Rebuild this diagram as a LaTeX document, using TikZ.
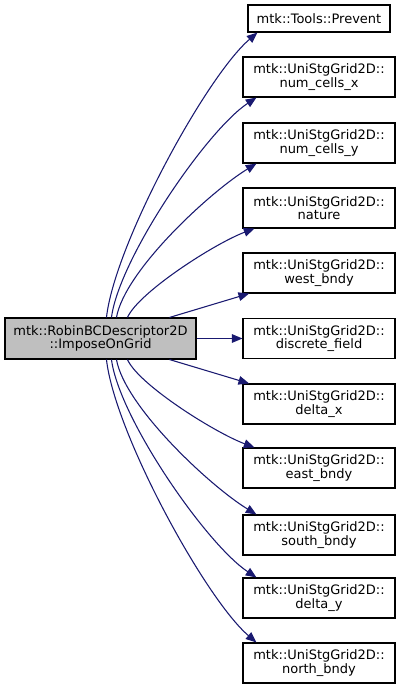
\documentclass[tikz,border=0pt]{standalone}
\usepackage{fontspec}
\setmainfont{DejaVu Sans}
\usetikzlibrary{arrows.meta}
\definecolor{edgeblue}{HTML}{191970}
\definecolor{boxgrey}{HTML}{BFBFBF}
\tikzset{
  box/.style={draw=black, line width=0.8pt, fill=white, inner sep=0pt, align=center,
    minimum width=114pt, minimum height=30pt,
    font=\fontsize{9.75pt}{10pt}\selectfont},
  mainbox/.style={box, fill=boxgrey, minimum width=143.25pt, minimum height=30.75pt},
  onebox/.style={box, minimum width=106.5pt, minimum height=20.25pt},
  link/.style={draw=edgeblue, line width=0.8pt, -{Triangle[length=8pt,width=6.5pt]}}
}
\begin{document}
\begin{tikzpicture}[x=0.75pt,y=-0.75pt]
\useasboundingbox (0,0) rectangle (400,691);
\node[mainbox] (L) at (100.5,338.5) {mtk::RobinBCDescriptor2D\\::ImposeOnGrid};
\node[onebox] (P) at (319,18.5) {mtk::Tools::Prevent};
\node[box] (A) at (319,77) {mtk::UniStgGrid2D::\\num\_cells\_x};
\node[box] (B) at (319,143) {mtk::UniStgGrid2D::\\num\_cells\_y};
\node[box] (C) at (319,208) {mtk::UniStgGrid2D::\\nature};
\node[box] (D) at (319,273) {mtk::UniStgGrid2D::\\west\_bndy};
\node[box] (E) at (319,338.5) {mtk::UniStgGrid2D::\\discrete\_field};
\node[box] (F) at (319,404) {mtk::UniStgGrid2D::\\delta\_x};
\node[box] (G) at (319,468) {mtk::UniStgGrid2D::\\east\_bndy};
\node[box] (H) at (319,535) {mtk::UniStgGrid2D::\\south\_bndy};
\node[box] (I) at (319,598) {mtk::UniStgGrid2D::\\delta\_y};
\node[box] (J) at (319,663) {mtk::UniStgGrid2D::\\north\_bndy};

% upward edges
\draw[link] ([xshift=76.5pt]L.north west) .. controls ++(8.25,-73.5) and ++(-51,43.5) .. ([xshift=7.5pt]P.south west);
\draw[link] ([xshift=80.25pt]L.north west) .. controls ++(7.5,-58.5) and ++(-50,33) .. ([xshift=10.5pt]A.south west);
\draw[link] ([xshift=84pt]L.north west) .. controls ++(8.25,-47) and ++(-46,28) .. ([xshift=10.5pt]B.south west);
\draw[link] ([xshift=92.25pt]L.north west) .. controls ++(11,-25) and ++(-40,15) .. ([xshift=9pt]C.south west);
\draw[link] ([xshift=123.75pt]L.north west) -- ([xshift=5pt]D.south west);
% straight
\draw[link] (L.east) -- (E.west);
% downward edges
\draw[link] ([xshift=123.75pt]L.south west) -- ([xshift=5pt]F.north west);
\draw[link] ([xshift=92.25pt]L.south west) .. controls ++(11,25) and ++(-40,-15) .. ([xshift=9pt]G.north west);
\draw[link] ([xshift=84pt]L.south west) .. controls ++(8.25,47) and ++(-46,-28) .. ([xshift=10.5pt]H.north west);
\draw[link] ([xshift=80.25pt]L.south west) .. controls ++(7.5,58.5) and ++(-50,-33) .. ([xshift=10.5pt]I.north west);
\draw[link] ([xshift=76.5pt]L.south west) .. controls ++(8.25,73.5) and ++(-51,-43.5) .. ([xshift=10.5pt]J.north west);
\end{tikzpicture}
\end{document}
